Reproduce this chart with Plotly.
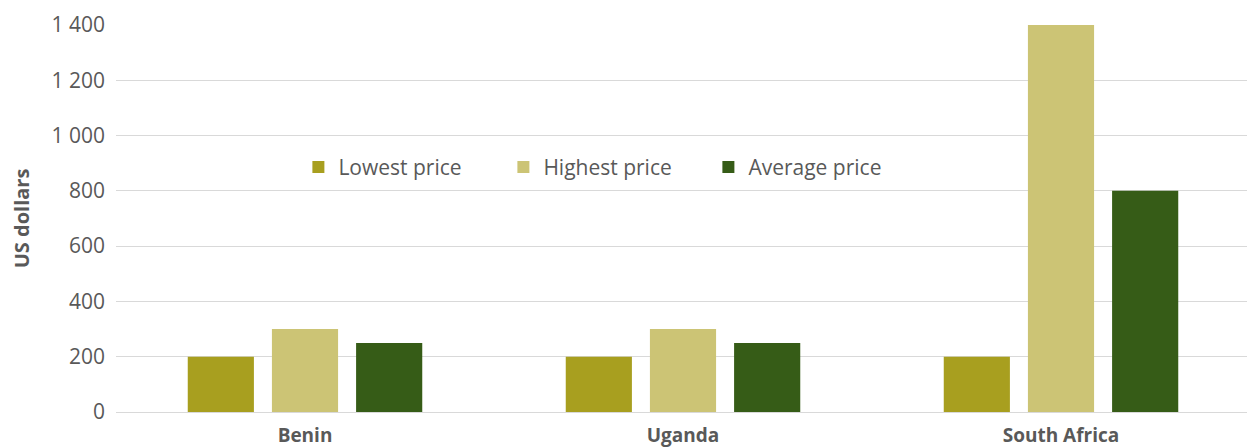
import plotly.graph_objects as go

countries = ["Benin", "Uganda", "South Africa"]
lowest = [200, 200, 200]
highest = [300, 300, 1400]
average = [250, 250, 800]
series_names = ["Lowest price", "Highest price", "Average price"]
colors = ["#A89F1F", "#CCC475", "#365C17"]

fig = go.Figure()
for name, vals, c in zip(series_names, [lowest, highest, average], colors):
    fig.add_trace(go.Bar(x=countries, y=vals, name=name, marker=dict(color=c, line=dict(width=0))))

fig.update_layout(
    width=1250, height=448,
    margin=dict(l=116, r=0, t=25, b=34),
    barmode="group", bargap=0.332, bargroupgap=0.214,
    separators=". ",
    plot_bgcolor="white", paper_bgcolor="white",
    font=dict(family="Open Sans", color="#595959"),
    showlegend=True,
    legend=dict(orientation="h", x=0.432, y=0.632, xanchor="center", yanchor="middle",
                font=dict(size=21, color="#595959"), entrywidth=160, entrywidthmode="pixels",
                bgcolor="rgba(0,0,0,0)"),
)
fig.update_yaxes(range=[0, 1400], dtick=200, tickformat=",d", showgrid=True, gridcolor="#D9D9D9",
                 zeroline=True, zerolinecolor="#D9D9D9", zerolinewidth=1,
                 tickfont=dict(size=21, color="#595959"), ticks="", ticklabelstandoff=10,
                 title=dict(text="<b>US dollars</b>", font=dict(size=20, color="#595959"), standoff=16))
fig.update_xaxes(showline=False, ticks="", tickfont=dict(size=19, color="#595959"),
                 ticklabelstandoff=10,
                 tickvals=countries, ticktext=["<b>%s</b>" % c for c in countries])

fig.write_html("out.html", config={"displayModeBar": False},
               post_script="document.body.style.margin='0';document.body.style.overflow='hidden';")
